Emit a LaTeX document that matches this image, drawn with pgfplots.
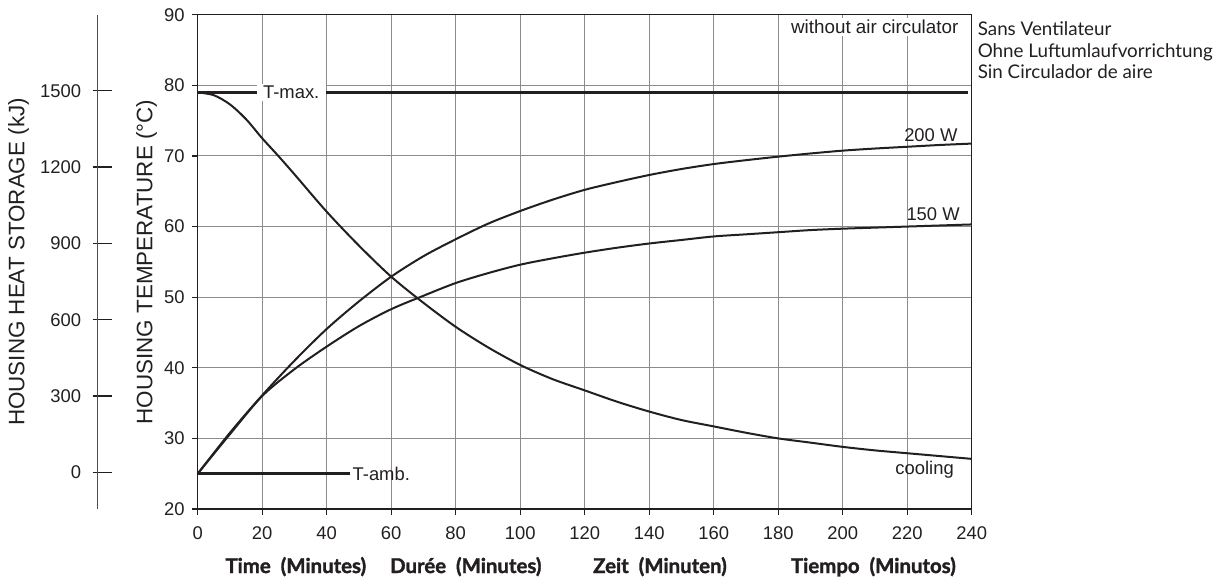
\documentclass[border=0pt]{standalone}
\usepackage{fontspec}
\setmainfont{Liberation Sans}
\newfontfamily\gotham{Lato}
\newfontfamily\gothamheavy{Lato}[BoldFeatures={FakeBold=1.6}]
\usepackage{pgfplots}
\pgfplotsset{compat=1.18}
\definecolor{ink}{HTML}{231F20}
\definecolor{gridc}{HTML}{8C8C8C}

\begin{document}
\begin{tikzpicture}
\path[use as bounding box] (0,0) rectangle (612.5pt,290pt);

% heat storage scale (0 kJ = 25 C, 1500 kJ = 79 C)
\begin{axis}[
  at={(48.85pt,35.5pt)}, anchor=south west,
  scale only axis, width=1pt, height=247.15pt,
  axis x line=none, axis y line*=left,
  xmin=0, xmax=1, ymin=-144, ymax=1799,
  ytick={0,300,...,1500},
  tick align=center, major tick length=9.5pt,
  major tick style={xshift=2.25pt},
  axis line style={ink!80, line width=0.6pt},
  tick style={ink, line width=0.6pt},
  ticklabel style={font=\fontsize{9.2}{11}\selectfont, text=ink},
  /pgf/number format/assume math mode=true,
  /pgf/number format/1000 sep={},
]
\end{axis}

\begin{axis}[
  at={(98.85pt,35.5pt)}, anchor=south west,
  scale only axis, width=387pt, height=247.15pt,
  xmin=0, xmax=240, ymin=20, ymax=90,
  xtick={0,20,...,240}, ytick={20,30,...,90},
  xtick pos=bottom, ytick pos=left,
  tick align=outside, major tick length=3pt,
  grid=major, grid style={gridc, line width=0.5pt},
  axis line style={ink, line width=0.6pt},
  tick style={ink, line width=0.6pt},
  ticklabel style={font=\fontsize{9.2}{11}\selectfont, text=ink},
  xticklabel style={yshift=-2.5pt},
  /pgf/number format/assume math mode=true,
  clip=false,
]
% without air circulator
\addplot[ink, line width=1.7pt] coordinates {(0,79) (238.7,79)};
\addplot[ink, line width=1.7pt] coordinates {(0,25) (47.3,25)};

% 200 W
\addplot[ink, line width=1pt, smooth] coordinates {
  (0,25) (10,30.8) (20,36.1) (30,41.0) (40,45.5) (50,49.4) (60,52.9)
  (70,55.8) (80,58.2) (90,60.4) (100,62.2) (110,63.8) (120,65.2)
  (130,66.3) (140,67.3) (150,68.15) (160,68.85) (170,69.4) (180,69.9)
  (190,70.35) (200,70.75) (210,71.05) (220,71.3) (230,71.55) (240,71.75)
};
% 150 W
\addplot[ink, line width=1pt, smooth] coordinates {
  (0,25) (10,30.6) (20,36.0) (30,39.8) (40,43.0) (50,45.9) (60,48.3)
  (70,50.2) (80,52.0) (90,53.4) (100,54.6) (110,55.5) (120,56.3)
  (130,57.0) (140,57.6) (150,58.1) (160,58.6) (170,58.9) (180,59.2)
  (190,59.5) (200,59.7) (210,59.85) (220,60.0) (230,60.15) (240,60.3)
};
% cooling
\addplot[ink, line width=1pt, smooth] coordinates {
  (0,79) (5,78.6) (10,77.3) (15,75.2) (20,72.5) (25,70.0) (30,67.4)
  (40,62.1) (50,57.3) (60,52.9) (70,49.2) (80,45.8) (90,42.9)
  (100,40.4) (110,38.4) (120,36.8) (130,35.2) (140,33.8) (150,32.6)
  (160,31.7) (170,30.8) (180,30.0) (190,29.4) (200,28.8) (210,28.3)
  (220,27.9) (230,27.5) (240,27.1)
};

\node[fill=white, inner sep=1pt, minimum width=34.7pt, font=\fontsize{9.2}{11}\selectfont, text=ink]
  at (axis cs:29.0,79) {T-max.};
\node[anchor=west, inner sep=1pt, font=\fontsize{9.2}{11}\selectfont, text=ink]
  at (axis cs:47.3,25) {T-amb.};
\node[anchor=east, fill=white, inner sep=1pt, font=\fontsize{9.4}{11}\selectfont, text=ink]
  at (axis cs:236.6,88.3) {without air circulator};
\node[anchor=east, inner sep=0pt, font=\fontsize{9.2}{11}\selectfont, text=ink]
  at (axis cs:235.7,73.0) {200 W};
\node[anchor=east, inner sep=0pt, font=\fontsize{9.2}{11}\selectfont, text=ink]
  at (axis cs:236.4,61.8) {150 W};
\node[inner sep=0pt, font=\fontsize{9.2}{11}\selectfont, text=ink]
  at (axis cs:225.4,25.6) {cooling};
\end{axis}

% axis titles
\node[rotate=90, font=\fontsize{11.2}{13}\selectfont, text=ink] at (9.3pt,159pt) {HOUSING HEAT STORAGE (kJ)};
\node[rotate=90, font=\fontsize{11.2}{13}\selectfont, text=ink] at (73.3pt,159pt) {HOUSING TEMPERATURE (°C)};

% time labels in four languages
\begin{scope}[every node/.style={anchor=base, inner sep=0pt, font=\gothamheavy\bfseries\fontsize{10.2}{11}\selectfont, text=ink}]
\node at (147.9pt,3.5pt) {Time\ \ (Minutes)};
\node at (232.9pt,3.5pt) {Durée\ \ (Minutes)};
\node at (330pt,3.5pt) {Zeit\ \ (Minuten)};
\node at (436.7pt,3.5pt) {Tiempo\ \ (Minutos)};
\end{scope}

\begin{scope}[every node/.style={anchor=base west, inner sep=0pt, font=\gotham\fontsize{9.4}{10}\selectfont, text=ink}]
\node at (488.7pt,272.5pt) {Sans Ventilateur};
\node at (488.7pt,261.5pt) {Ohne Luftumlaufvorrichtung};
\node at (488.7pt,251pt) {Sin Circulador de aire};
\end{scope}
\end{tikzpicture}
\end{document}
